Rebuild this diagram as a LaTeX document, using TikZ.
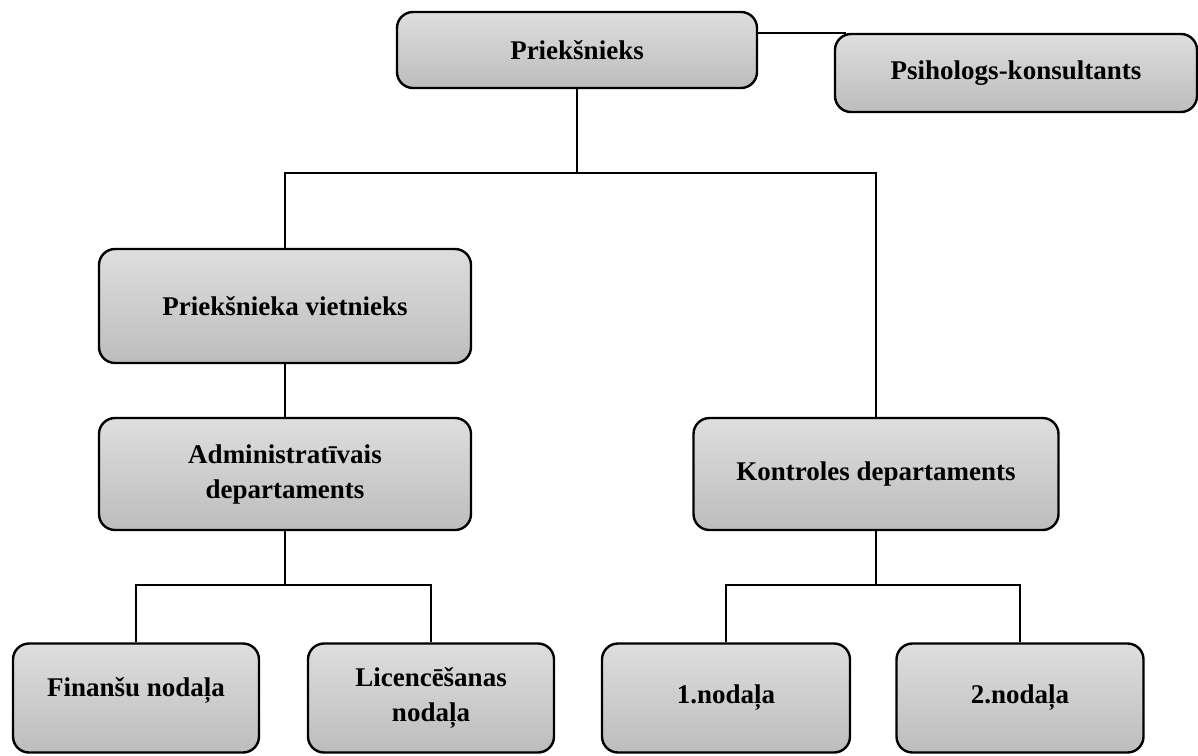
\documentclass[tikz,border=0pt]{standalone}
\usepackage{fontspec}
\setmainfont{Liberation Serif}
\usetikzlibrary{calc}

\tikzset{
  unit/.style={draw, line width=2.4pt, rounded corners=16pt, top color=black!13, bottom color=black!26,
    align=center, font=\fontsize{27}{35}\selectfont\bfseries, inner sep=0pt},
  link/.style={line width=2.4pt}
}

\begin{document}
\begin{tikzpicture}[x=1pt,y=-1pt]
        \useasboundingbox (0,0) rectangle (1198,755);

        % Top level
        \node[unit, minimum width=360pt, minimum height=76pt] (chief) at (577,50) {Priekšnieks};
        \node[unit, minimum width=362pt, minimum height=78pt] (psych) at (1016,73) {Psihologs-konsultants};

        % Middle level
        \node[unit, minimum width=372pt, minimum height=114pt] (deputy) at (285,306) {Priekšnieka vietnieks};
        \node[unit, minimum width=372pt, minimum height=112pt] (admin) at (285,474) {Administratīvais\\departaments};
        \node[unit, minimum width=365pt, minimum height=112pt] (control) at (876,474) {Kontroles departaments};

        % Units
        \node[unit, minimum width=246pt, minimum height=109pt, text depth=23pt] (fin) at (136,698) {Finanšu nodaļa};
        \node[unit, minimum width=246pt, minimum height=109pt] (lic) at (431,698) {Licencēšanas\\nodaļa};
        \node[unit, minimum width=248pt, minimum height=109pt] (first) at (726,698) {1.nodaļa};
        \node[unit, minimum width=247pt, minimum height=109pt] (second) at (1020,698) {2.nodaļa};

        % Connectors
        \coordinate (split) at (577,173);
        \coordinate (admsplit) at ([yshift=-54pt]admin.south);
        \coordinate (ctrlsplit) at ([yshift=-54pt]control.south);

        \draw[link] (chief.east |- psych.north) -- ([xshift=12pt]psych.north west);
        \draw[link] (chief) -- (split);
        \draw[link] (deputy) |- (split) -| (control);
        \draw[link] (deputy) -- (admin);
        \draw[link] (admin) -- (admsplit);
        \draw[link] (fin) |- (admsplit) -| (lic);
        \draw[link] (control) -- (ctrlsplit);
        \draw[link] (first) |- (ctrlsplit) -| (second);

    \end{tikzpicture}
\end{document}
